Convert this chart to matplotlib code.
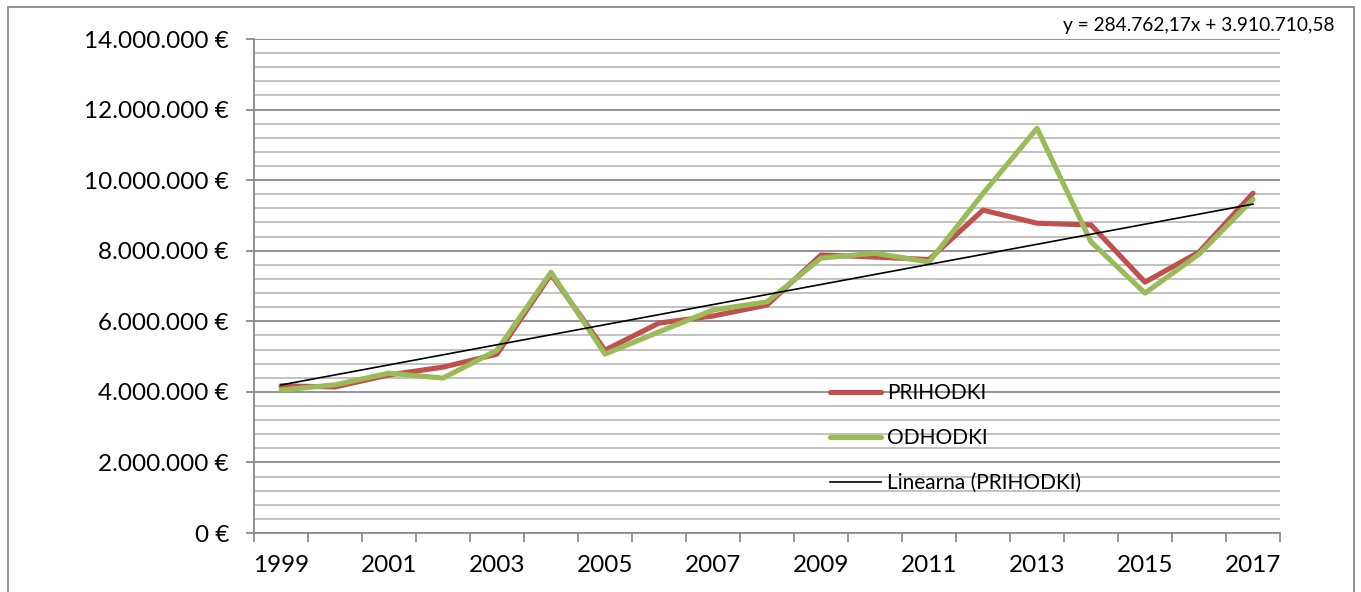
import numpy as np
import matplotlib.pyplot as plt
from matplotlib.patches import Rectangle
from matplotlib.ticker import FuncFormatter, MultipleLocator, FixedLocator

plt.rcParams['font.family'] = ['Lato', 'DejaVu Sans']

years = list(range(1999, 2018))
prihodki = [4.17, 4.14, 4.48, 4.70, 5.07, 7.33, 5.18, 5.95, 6.15, 6.46,
            7.88, 7.82, 7.75, 9.15, 8.78, 8.73, 7.11, 7.96, 9.63]
odhodki = [4.05, 4.20, 4.53, 4.39, 5.18, 7.39, 5.07, 5.70, 6.32, 6.55,
           7.79, 7.93, 7.68, 9.62, 11.47, 8.25, 6.80, 7.90, 9.46]
trend_slope = 284762.17
trend_intercept = 3910710.58
equation = "y = 284.762,17x + 3.910.710,58"

prihodki = np.array(prihodki) * 1e6
odhodki = np.array(odhodki) * 1e6
idx = np.arange(len(years))
trend = trend_slope * (idx + 1) + trend_intercept

W, H = 1361, 592
fig = plt.figure(figsize=(W / 100, H / 100), dpi=100)
ax = fig.add_axes([254 / W, 1 - 533 / H, (1280 - 254) / W, (533 - 39) / H])

red = '#C0504D'
green = '#9BBB59'
ax.plot(idx, prihodki, color=red, lw=3.7, solid_capstyle='round', solid_joinstyle='round', label='PRIHODKI', zorder=3)
ax.plot(idx, odhodki, color=green, lw=3.7, solid_capstyle='round', solid_joinstyle='round', label='ODHODKI', zorder=4)
ax.plot(idx, trend, color='black', lw=1.2, label='Linearna (PRIHODKI)', zorder=5)

ax.set_xlim(-0.5, len(years) - 0.5)
ax.set_ylim(0, 14e6)

ax.yaxis.set_major_locator(MultipleLocator(2e6))
ax.yaxis.set_minor_locator(MultipleLocator(4e5))
ax.yaxis.set_major_formatter(FuncFormatter(lambda v, p: f"{int(round(v)):,} €".replace(',', '.')))
ax.grid(True, which='major', axis='y', color='#8a8a8a', lw=1.3)
ax.grid(True, which='minor', axis='y', color='#bdbdbd', lw=1.3)
ax.set_axisbelow(True)

ax.xaxis.set_major_locator(FixedLocator(np.arange(-0.5, len(years), 1)))
ax.xaxis.set_major_formatter(FuncFormatter(lambda v, p: ''))
ax.xaxis.set_minor_locator(FixedLocator(idx[::2]))
ax.set_xticklabels([str(y) for y in years[::2]], minor=True)

ax.tick_params(axis='y', which='major', length=6, width=1.3, color='#8a8a8a', pad=12, labelsize=17.5)
ax.tick_params(axis='y', which='minor', length=0)
ax.tick_params(axis='x', which='major', length=6.5, width=1.3, color='#8a8a8a')
ax.tick_params(axis='x', which='minor', length=0, pad=16, labelsize=17.5)

for s in ['top', 'right']:
    ax.spines[s].set_visible(False)
for s in ['left', 'bottom']:
    ax.spines[s].set_color('#8a8a8a')
    ax.spines[s].set_linewidth(1.3)

leg = ax.legend(loc='upper left', bbox_to_anchor=((830 - 254) / 1026, (533 - 383) / 494),
                frameon=False, fontsize=15, handlelength=2.45, handletextpad=0.3,
                labelspacing=1.2, borderpad=0, borderaxespad=0)

fig.text(1063 / W, 1 - 25 / H, equation, fontsize=13.8, ha='left', va='center')

# chart area border
fig.add_artist(Rectangle((8 / W, -0.05), (1354 - 8) / W, 1.05 - 7 / H,
                         transform=fig.transFigure, fill=False, edgecolor='#8a8a8a', lw=1.3))

plt.savefig("out.png", dpi=100)
